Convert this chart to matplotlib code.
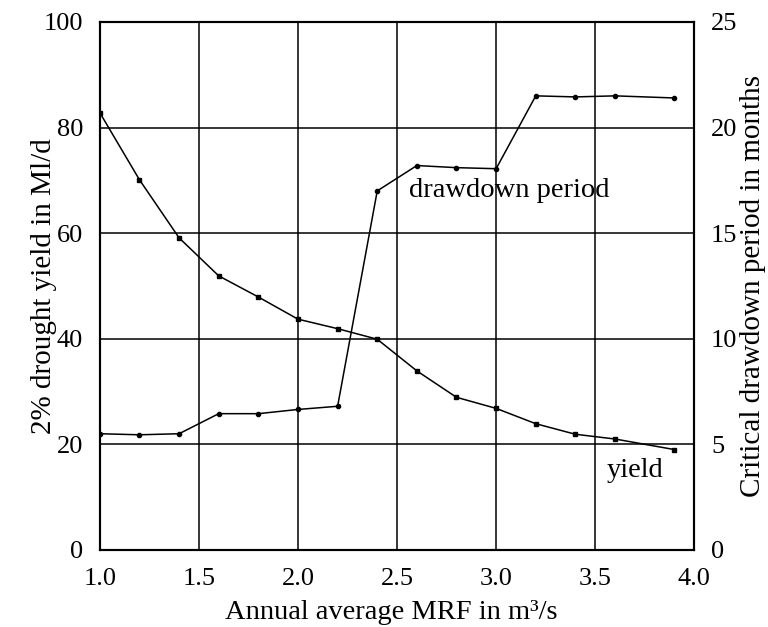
import matplotlib.pyplot as plt

plt.rcParams['font.family'] = ['Liberation Serif', 'DejaVu Serif']

mrf = [1.0, 1.2, 1.4, 1.6, 1.8, 2.0, 2.2, 2.4, 2.6, 2.8, 3.0, 3.2, 3.4, 3.6, 3.9]
yield_mld = [82.8, 70.1, 59.1, 51.9, 47.9, 43.7, 41.9, 39.9, 33.9, 28.9, 26.8, 23.9, 21.9, 21.0, 19.0]
drawdown_months = [5.5, 5.45, 5.5, 6.45, 6.45, 6.65, 6.8, 17.0, 18.2, 18.1, 18.05, 21.5, 21.45, 21.5, 21.4]

x_ticks = [1.0, 1.5, 2.0, 2.5, 3.0, 3.5, 4.0]
left_ticks = [0, 20, 40, 60, 80, 100]
right_ticks = [0, 5, 10, 15, 20, 25]

fig = plt.figure(figsize=(7.68, 6.27), dpi=100)
ax = fig.add_axes([0.130, 0.123, 0.774, 0.842])
ax2 = ax.twinx()

ax.plot(mrf, yield_mld, color='black', lw=1.1, marker='s', ms=3.5)
ax2.plot(mrf, drawdown_months, color='black', lw=1.1, marker='o', ms=3)

ax.set_xlim(1.0, 4.0)
ax.set_ylim(0, 100)
ax2.set_ylim(0, 25)
ax.set_xticks(x_ticks)
ax.set_xticklabels([f"{t:.1f}" for t in x_ticks])
ax.set_yticks(left_ticks)
ax2.set_yticks(right_ticks)

ax.grid(True, color='black', lw=1.1)
ax.set_axisbelow(True)
for a in (ax, ax2):
    for s in a.spines.values():
        s.set_linewidth(1.5)
    a.tick_params(length=0, labelsize=19, pad=12)
ax.tick_params(axis='x', pad=13)

ax.set_xlabel("Annual average MRF in m³/s", fontsize=20.5)
ax.set_ylabel("2% drought yield in Ml/d", fontsize=21)
ax2.set_ylabel("Critical drawdown period in months", fontsize=21)
ax.xaxis.set_label_coords(0.49, -0.094)
ax.yaxis.set_label_coords(-0.072, 0.5)
ax2.yaxis.set_label_coords(1.077, 0.5)

ax.text(2.56, 68, "drawdown period", fontsize=20.5, va='center', ha='left')
ax.text(3.56, 15, "yield", fontsize=20.5, va='center', ha='left')

fig.savefig("out.png", dpi=100)
